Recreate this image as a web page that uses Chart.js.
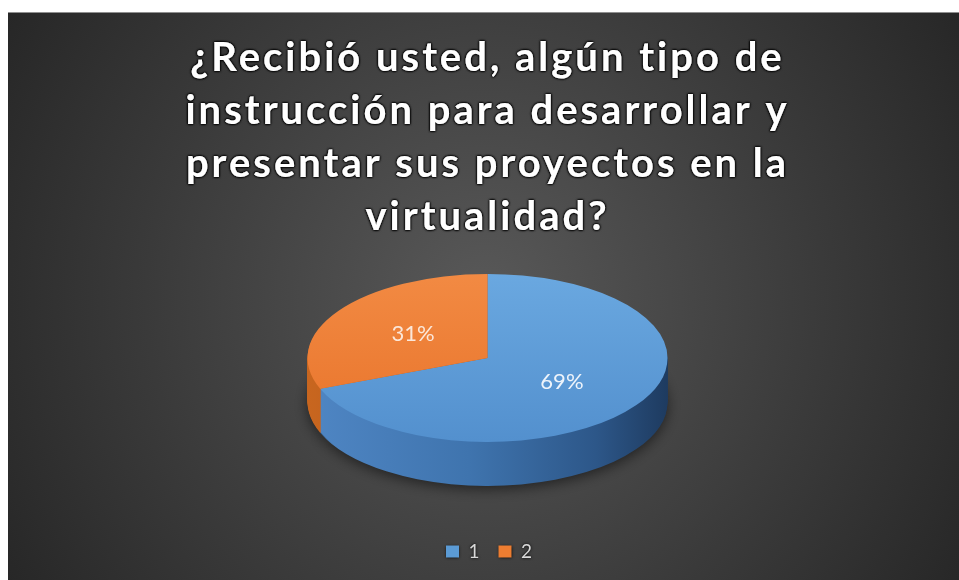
<!DOCTYPE html>
<html>
<head>
<meta charset="utf-8">
<script src="https://cdn.jsdelivr.net/npm/chart.js@4"></script>
<style>
  html, body { margin: 0; padding: 0; background: #fff; }
  #wrap { width: 959px; height: 580px; }
</style>
</head>
<body>
<div id="wrap"><canvas id="pie" width="959" height="580"></canvas></div>
<script>
const TITLE_LINES = [
  '¿Recibió usted, algún tipo de',
  'instrucción para desarrollar y',
  'presentar sus proyectos en la',
  'virtualidad?',
];
const CATEGORIES = ['1', '2'];
const PERCENTS = [69, 31];

const TOP_COLORS = ['#5b9bd5', '#ed7d31'];
const TOP_SHADES = [['#6aa8e0', '#5390ce'], ['#f28a43', '#e8732a']];
const SIDE_SHADES = [
  ['#4f86c4', '#3f74ae', '#2d5789', '#1e3b60'],
  ['#c8661f', '#b0561a', '#8f4515', '#733710'],
];

// tamaño del "pastel" inclinado en pantalla
const RX = 180;
const RY = 84;
const DEPTH = 44;
const LIFT = 27;
const TITLE_SPACING = '3px';

// fondo gris oscuro con degradado radial, y sombra del título
const backdrop = {
  id: 'backdrop',
  beforeDraw(chart) {
    const ctx = chart.ctx;
    ctx.save();
    ctx.fillStyle = '#ffffff';
    ctx.fillRect(0, 0, chart.width, chart.height);
    const g = ctx.createRadialGradient(485, 300, 20, 485, 300, 600);
    g.addColorStop(0, '#575757');
    g.addColorStop(0.55, '#3a3a3a');
    g.addColorStop(1, '#232323');
    ctx.fillStyle = g;
    ctx.fillRect(8, 12, chart.width - 8, chart.height - 12);
    ctx.fillStyle = '#8f8f8f';
    ctx.fillRect(8, 12, chart.width - 8, 1);
    ctx.restore();

    ctx.letterSpacing = TITLE_SPACING;
    ctx.shadowColor = '#000000';
    ctx.shadowBlur = 3;
  },
  afterDraw(chart) {
    // pasadas extra para reforzar el contorno negro del título
    const ctx = chart.ctx;
    for (let k = 0; k < 3; k++) {
      ctx.save();
      ctx.letterSpacing = TITLE_SPACING;
      ctx.shadowColor = '#000000';
      ctx.shadowBlur = 2;
      chart.titleBlock.draw(chart.chartArea);
      ctx.restore();
    }
    ctx.letterSpacing = '0px';
  },
};

function frame(chart) {
  const el = chart.getDatasetMeta(0).data[0];
  const r = el.outerRadius;
  return { cx: el.x, cy: el.y, r, sx: RX / r, sy: RY / r, top: el.y - LIFT };
}

function withOptions(el, extra, fn) {
  const saved = el.options;
  el.options = Object.assign({}, saved, extra);
  fn();
  el.options = saved;
}

const pie3d = {
  id: 'pie3d',
  beforeDatasetsDraw(chart) {
    const ctx = chart.ctx;
    ctx.shadowColor = 'rgba(0,0,0,0)';
    ctx.shadowBlur = 0;
    ctx.letterSpacing = '0px';

    const f = frame(chart);
    const arcs = chart.getDatasetMeta(0).data;

    // cara lateral: capas desplazadas hacia abajo
    for (let d = DEPTH; d > 0; d--) {
      ctx.save();
      if (d === DEPTH) {
        ctx.shadowColor = 'rgba(0,0,0,0.55)';
        ctx.shadowBlur = 14;
        ctx.shadowOffsetY = 3;
      }
      ctx.translate(f.cx, f.top + d);
      ctx.scale(f.sx, f.sy);
      ctx.translate(-f.cx, -f.cy);
      arcs.forEach((el, i) => {
        const g = ctx.createLinearGradient(f.cx - f.r, 0, f.cx + f.r, 0);
        const s = SIDE_SHADES[i];
        g.addColorStop(0, s[0]);
        g.addColorStop(0.45, s[1]);
        g.addColorStop(0.8, s[2]);
        g.addColorStop(1, s[3]);
        withOptions(el, { backgroundColor: g, borderColor: g, borderWidth: 0 }, () => el.draw(ctx));
      });
      ctx.restore();
    }

    // cara superior (la dibuja Chart.js con esta transformación)
    ctx.save();
    ctx.translate(f.cx, f.top);
    ctx.scale(f.sx, f.sy);
    ctx.translate(-f.cx, -f.cy);
    arcs.forEach((el, i) => {
      const g = ctx.createLinearGradient(0, f.cy - f.r, 0, f.cy + f.r);
      g.addColorStop(0, TOP_SHADES[i][0]);
      g.addColorStop(1, TOP_SHADES[i][1]);
      el.$saved = el.options;
      el.options = Object.assign({}, el.options, { backgroundColor: g });
    });
  },
  afterDatasetsDraw(chart) {
    const ctx = chart.ctx;
    ctx.restore();
    const f = frame(chart);
    const arcs = chart.getDatasetMeta(0).data;
    arcs.forEach((el) => {
      if (el.$saved) { el.options = el.$saved; delete el.$saved; }
    });

    // etiquetas de porcentaje
    ctx.save();
    ctx.font = '22px Lato';
    ctx.textAlign = 'center';
    ctx.textBaseline = 'middle';
    arcs.forEach((el, i) => {
      const p = el.tooltipPosition();
      const x = f.cx + (p.x - f.cx) * f.sx;
      const y = f.top + (p.y - f.cy) * f.sy;
      ctx.fillStyle = i === 0 ? '#eef4fb' : '#fbe7da';
      ctx.fillText(PERCENTS[i] + '%', x, y);
    });
    ctx.restore();
  },
};

new Chart(document.getElementById('pie'), {
  type: 'pie',
  data: {
    labels: CATEGORIES,
    datasets: [{
      data: PERCENTS,
      backgroundColor: TOP_COLORS,
      borderWidth: 0,
    }],
  },
  options: {
    responsive: false,
    animation: false,
    rotation: 0,
    layout: { padding: { top: 12, left: 16, right: 0, bottom: 9 } },
    plugins: {
      title: {
        display: true,
        text: TITLE_LINES,
        color: '#ffffff',
        font: { family: 'Lato', size: 40, weight: 'bold', lineHeight: 1.33 },
        padding: { top: 19, bottom: 0 },
      },
      legend: {
        position: 'bottom',
        labels: {
          color: '#d9d9d9',
          font: { family: 'Lato', size: 19 },
          boxWidth: 13,
          boxHeight: 12,
          padding: 16,
        },
      },
      tooltip: { enabled: false },
    },
  },
  plugins: [backdrop, pie3d],
});
</script>
</body>
</html>
